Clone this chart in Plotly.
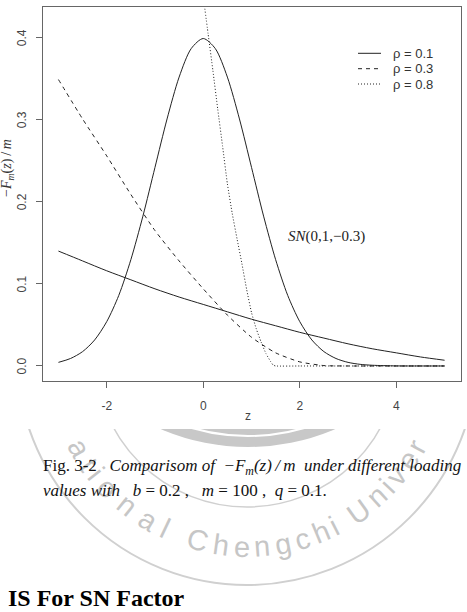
import numpy as np
import plotly.graph_objects as go

# ---------------- data ----------------
z_bell = [-3, -2.75, -2.5, -2.25, -2, -1.75, -1.5, -1.25, -1, -0.75, -0.5, -0.25, 0,
          0.25, 0.5, 0.75, 1, 1.25, 1.5, 1.75, 2, 2.25, 2.5, 2.75, 3, 3.25, 3.5, 4, 4.5, 5]
y_bell = [0.0044, 0.0091, 0.0175, 0.0317, 0.054, 0.086, 0.1295, 0.1826, 0.242, 0.301, 0.352, 0.3867, 0.399,
          0.3867, 0.352, 0.301, 0.242, 0.1826, 0.1295, 0.086, 0.054, 0.0317, 0.0175, 0.0091, 0.0044, 0.002, 0.0009, 0.0001, 0.0, 0.0]

z_r1 = [-3, -2.5, -2, -1.5, -1, -0.5, 0, 0.5, 1, 1.5, 2, 2.5, 3, 3.5, 4, 4.5, 5]
y_r1 = [0.140, 0.128, 0.116, 0.105, 0.094, 0.084, 0.075, 0.066, 0.057, 0.049, 0.041, 0.034, 0.027, 0.021, 0.016, 0.011, 0.007]

z_r3 = [-3, -2.5, -2, -1.5, -1, -0.5, 0, 0.5, 1, 1.5, 2, 2.5, 3, 4, 5]
y_r3 = [0.349, 0.301, 0.256, 0.209, 0.165, 0.128, 0.094, 0.062, 0.035, 0.016, 0.005, 0.0005, 0.0, 0.0, 0.0]

z_r8 = [0.0, 0.1, 0.2, 0.3, 0.4, 0.5, 0.6, 0.7, 0.8, 0.9, 1.0, 1.1, 1.2, 1.3, 1.4, 1.45, 1.5, 2, 3, 4, 5]
y_r8 = [0.45, 0.405, 0.36, 0.313, 0.268, 0.222, 0.186, 0.155, 0.125, 0.093, 0.065, 0.045, 0.029, 0.015, 0.005, 0.001, 0.0, 0.0, 0.0, 0.0, 0.0]

legend_names = ["\u03c1 = 0.1", "\u03c1 = 0.3", "\u03c1 = 0.8"]
legend_dashes = ["solid", "4px,4px", "1px,2px"]
x_ticks = [-2, 0, 2, 4]
y_ticks = [0.0, 0.1, 0.2, 0.3, 0.4]

# ---------------- geometry helpers ----------------
W, H = 467, 612
L, R, T, B = 43, 461, 7, 381
def px(x):
    return (x - L) / (R - L)
def py(y):
    return (B - y) / (B - T)

LINE = "#222222"
fig = go.Figure()
fig.add_trace(go.Scatter(x=z_r1, y=y_r1, mode="lines", name=legend_names[0], showlegend=False,
                         line=dict(color=LINE, width=1, dash=legend_dashes[0], shape="spline", smoothing=0.8)))
fig.add_trace(go.Scatter(x=z_r3, y=y_r3, mode="lines", name=legend_names[1], showlegend=False,
                         line=dict(color=LINE, width=1, dash=legend_dashes[1], shape="spline", smoothing=0.6)))
fig.add_trace(go.Scatter(x=z_r8, y=y_r8, mode="lines", name=legend_names[2], showlegend=False,
                         line=dict(color=LINE, width=1, dash=legend_dashes[2], shape="spline", smoothing=0.4)))
fig.add_trace(go.Scatter(x=z_bell, y=y_bell, mode="lines", name="SN(0,1,-0.3)", showlegend=False,
                         line=dict(color=LINE, width=1, shape="spline", smoothing=0.8)))

AX = "#666666"
TICKF = dict(family="Liberation Sans, Arial", size=12, color="#444444")
fig.update_xaxes(range=[-3.32, 5.34], tickvals=x_ticks, ticktext=[str(v) for v in x_ticks],
                 showgrid=False, zeroline=False, showline=True, mirror=True, linecolor=AX, linewidth=1,
                 ticks="outside", ticklen=6, tickcolor=AX, tickfont=TICKF, ticklabelstandoff=8)
fig.update_yaxes(range=[-0.0183, 0.4374], tickvals=y_ticks, showticklabels=False,
                 showgrid=False, zeroline=False, showline=True, mirror=True, linecolor=AX, linewidth=1,
                 ticks="outside", ticklen=6, tickcolor=AX)

shapes = []
annots = []

# y tick labels (rotated, R style) placed on the y axis scale
for v in y_ticks:
    annots.append(dict(xref="paper", yref="y", x=px(21.5), y=v, text="%.1f" % v, showarrow=False,
                       textangle=-90, xanchor="center", yanchor="middle", font=TICKF))

# ---- watermark (drawn below, then the chart image area is white) ----
WM = "#d0d0d0"
cx, cy = 247, 355
for rr, wdt in [(230, 2), (152, 1.5)]:
    shapes.append(dict(type="circle", xref="paper", yref="paper", layer="below",
                       x0=px(cx - rr), x1=px(cx + rr), y0=py(cy + rr), y1=py(cy - rr),
                       line=dict(color=WM, width=wdt)))
shapes.append(dict(type="circle", xref="paper", yref="paper", layer="below",
                   x0=px(248 - 221), x1=px(248 + 221), y0=py(226 + 221), y1=py(226 - 221),
                   fillcolor="#c8c8c8", line=dict(width=0)))
shapes.append(dict(type="circle", xref="paper", yref="paper", layer="below",
                   x0=px(248 - 200), x1=px(248 + 200), y0=py(236 + 200), y1=py(236 - 200),
                   fillcolor="rgba(0,0,0,0)", line=dict(color="white", width=2)))
shapes.append(dict(type="rect", xref="paper", yref="paper", layer="below",
                   x0=px(0), x1=px(W), y0=py(429), y1=py(0),
                   fillcolor="white", line=dict(width=0)))

wm_text = "National Chengchi University"
widths = {"N": 722, "a": 556, "t": 278, "i": 222, "o": 556, "n": 556, "l": 222, " ": 278, "C": 722,
          "h": 556, "e": 556, "g": 556, "c": 500, "U": 722, "v": 500, "r": 333, "s": 500, "y": 500}
cum = 0.0
centers = []
for ch in wm_text:
    w = widths[ch]
    centers.append(cum + w / 2)
    cum += w
anchors = [(1, 151.0), (9, 105.0), (16, 63.0)]
def angle_of(i):
    c = centers[i]
    segs = list(zip(anchors[:-1], anchors[1:]))
    for k, ((i0, a0), (i1, a1)) in enumerate(segs):
        if i <= i1 or k == len(segs) - 1:
            c0, c1 = centers[i0], centers[i1]
            return a0 + (a1 - a0) * (c - c0) / (c1 - c0)
rt = 192
for i, ch in enumerate(wm_text):
    if ch == " ":
        continue
    phi = angle_of(i)
    xx = cx + rt * np.cos(np.radians(phi))
    yy = cy + rt * np.sin(np.radians(phi))
    if yy < 434 or xx > 462:
        continue
    annots.append(dict(xref="paper", yref="paper", x=px(xx), y=py(yy), text=ch, showarrow=False,
                       xanchor="center", yanchor="middle", textangle=phi - 90,
                       font=dict(family="Liberation Sans, Arial", size=29, color="#c6c6c6")))

# ---- legend (R style, no box) ----
leg_rows = [53.3, 68.7, 84.0]
for name, dash, yy in zip(legend_names, legend_dashes, leg_rows):
    shapes.append(dict(type="line", xref="paper", yref="paper", x0=px(358), x1=px(381), y0=py(yy), y1=py(yy),
                       line=dict(color=LINE, width=1, dash=dash)))
    annots.append(dict(xref="paper", yref="paper", x=px(391), y=py(yy), text=name, showarrow=False,
                       xanchor="left", yanchor="middle",
                       font=dict(family="Liberation Sans, Arial", size=13, color="#333333")))

# ---- axis titles ----
annots.append(dict(xref="paper", yref="paper", x=px(248), y=py(416), text="z", showarrow=False,
                   xanchor="center", yanchor="middle",
                   font=dict(family="Liberation Sans, Arial", size=12, color="#444444")))
annots.append(dict(xref="paper", yref="paper", x=px(7), y=py(168),
                   text="\u2212<i>F</i><sub><i>m</i></sub>(<i>z</i>)\u2009/\u2009<i>m</i>",
                   showarrow=False, textangle=-90, xanchor="center", yanchor="middle",
                   font=dict(family="Liberation Serif, Times New Roman", size=14, color="#333333")))
annots.append(dict(xref="x", yref="y", x=2.55, y=(366 - 236.7) / 821.0,
                   text="<i>SN</i>(0,1,\u22120.3)", showarrow=False, xanchor="center", yanchor="middle",
                   font=dict(family="Liberation Serif, Times New Roman", size=15, color="#222222")))

# ---- caption ----
SERIF = "Liberation Serif, Times New Roman"
annots.append(dict(xref="paper", yref="paper", x=px(40.5), y=py(467), xanchor="left", yanchor="middle",
                   showarrow=False,
                   text="Fig. 3-2\u00a0\u00a0\u00a0<i>Comparisom of\u00a0\u00a0\u2212F<sub>m</sub>(z)\u2009/\u2009m\u00a0\u00a0under different loading</i>",
                   font=dict(family=SERIF, size=17, color="#111111")))
annots.append(dict(xref="paper", yref="paper", x=px(40.5), y=py(490), xanchor="left", yanchor="middle",
                   showarrow=False,
                   text="<i>values with</i>\u00a0\u00a0\u00a0<i>b</i> = 0.2 ,\u00a0\u00a0\u00a0<i>m</i> = 100 ,\u00a0\u00a0<i>q</i> = 0.1.",
                   font=dict(family=SERIF, size=17, color="#111111")))
annots.append(dict(xref="paper", yref="paper", x=px(6), y=py(598), xanchor="left", yanchor="middle",
                   showarrow=False, text="<b>IS For SN Factor</b>",
                   font=dict(family=SERIF, size=24, color="#000000")))

fig.update_layout(
    width=W, height=H, margin=dict(l=L, r=W - R, t=T, b=H - B),
    paper_bgcolor="white", plot_bgcolor="rgba(0,0,0,0)",
    shapes=shapes, annotations=annots,
    showlegend=False,
)

fig.write_html("out.html")
